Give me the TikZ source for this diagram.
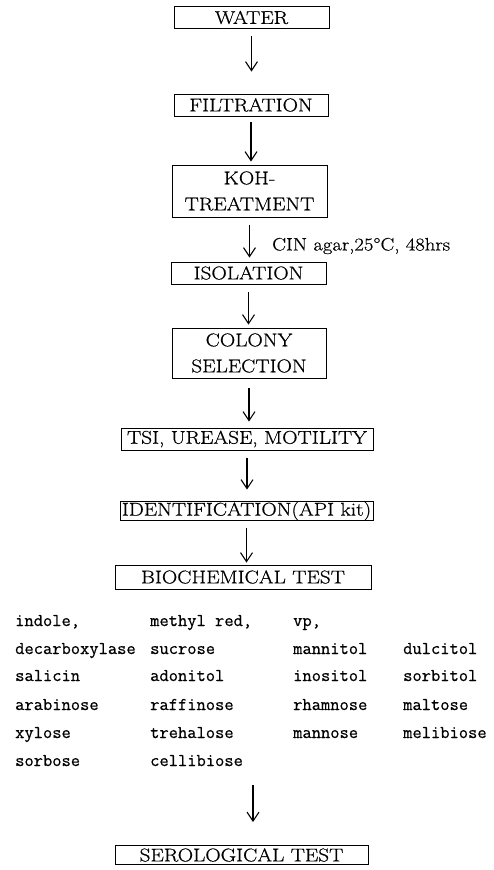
\documentclass[tikz,border=0pt]{standalone}
\usepackage{fontspec}
\setmainfont{Latin Modern Roman}[FakeStretch = 1.15, FakeBold = 0.6]
\setmonofont{Latin Modern Mono}[FakeBold = 0.6]
\usepackage{tikz}
\usetikzlibrary{arrows.meta}

\begin{document}
\begin{tikzpicture}[x = 1pt, y = -1pt,
        procbox/.style = {draw, line width = 0.8pt, inner sep = 0pt, minimum height = 22pt, align = center, font = \fontsize{18.5}{26}\selectfont},
        flow/.style = {-{Straight Barb[length = 9pt, width = 12pt]}, line width = 1.1pt},
        item/.style = {anchor = base west, inner sep = 0pt, font = \fontsize{18}{22}\ttfamily}]
        \useasboundingbox (0, 0) rectangle (494, 870);

        % Steps
        \node [procbox, minimum width = 155pt] (water) at (251.5, 17.5) {WATER};
        \node [procbox, minimum width = 154pt] (filtration) at (251, 105) {FILTRATION};
        \node [procbox, minimum width = 155pt, minimum height = 52pt] (koh) at (249.5, 191) {KOH-\\TREATMENT};
        \node [procbox, minimum width = 155pt] (isolation) at (248.5, 273) {ISOLATION};
        \node [procbox, minimum width = 154pt, minimum height = 50pt] (colony) at (249, 353) {COLONY\\SELECTION};
        \node [procbox, minimum width = 252pt] (tsi) at (247, 439) {TSI, UREASE, MOTILITY};
        \node [procbox, minimum width = 253pt, minimum height = 19pt] (ident) at (246.5, 511) {IDENTIFICATION(API kit)};
        \node [procbox, minimum width = 256pt, minimum height = 24pt] (biochem) at (243, 577) {BIOCHEMICAL TEST};
        \node [procbox, minimum width = 253pt, minimum height = 19pt] (serology) at (241.5, 855) {SEROLOGICAL TEST};

        % Condition
        \node [anchor = west, inner sep = 0pt, font = \fontsize{18}{22}\selectfont] (cin) at (272, 246) {CIN agar,25°C, 48hrs};

        % Tests
        \node [item] (indole) at (15, 626) {indole,};
        \node [item] (decarb) at (15, 654) {decarboxylase};
        \node [item] (salicin) at (15, 681) {salicin};
        \node [item] (arabinose) at (15, 710) {arabinose};
        \node [item] (xylose) at (15, 738) {xylose};
        \node [item] (sorbose) at (15, 766) {sorbose};
        \node [item] (methylred) at (150, 626) {methyl red,};
        \node [item] (sucrose) at (150, 654) {sucrose};
        \node [item] (adonitol) at (150, 681) {adonitol};
        \node [item] (raffinose) at (150, 710) {raffinose};
        \node [item] (trehalose) at (150, 738) {trehalose};
        \node [item] (cellibiose) at (150, 766) {cellibiose};
        \node [item] (vp) at (293, 626) {vp,};
        \node [item] (mannitol) at (293, 654) {mannitol};
        \node [item] (inositol) at (293, 681) {inositol};
        \node [item] (rhamnose) at (293, 710) {rhamnose};
        \node [item] (mannose) at (293, 738) {mannose};
        \node [item] (dulcitol) at (403, 654) {dulcitol};
        \node [item] (sorbitol) at (403, 681) {sorbitol};
        \node [item] (maltose) at (403, 710) {maltose};
        \node [item] (melibiose) at (403, 738) {melibiose};
        \coordinate (listend) at (253, 785);

        % Arrows
        \draw [flow, shorten < = 7pt, shorten > = 22pt] (water.south) -- (water.south |- filtration.north);
        \draw [flow, shorten < = 6pt, shorten > = 3pt] (filtration.south) -- (filtration.south |- koh.north);
        \draw [flow, shorten < = 8pt, shorten > = 4pt] (koh.south) -- (koh.south |- isolation.north);
        \draw [flow, shorten < = 8pt, shorten > = 3pt] (isolation.south) -- (isolation.south |- colony.north);
        \draw [flow, shorten < = 10pt, shorten > = 6pt] (colony.south) -- (colony.south |- tsi.north);
        \draw [flow, shorten < = 8pt, shorten > = 11.5pt] (tsi.south) -- (tsi.south |- ident.north);
        \draw [flow, shorten < = 7.5pt, shorten > = 2pt] (ident.south) -- (ident.south |- biochem.north);
        \draw [flow, shorten > = 23pt] (listend) -- (listend |- serology.north);

    \end{tikzpicture}
\end{document}
